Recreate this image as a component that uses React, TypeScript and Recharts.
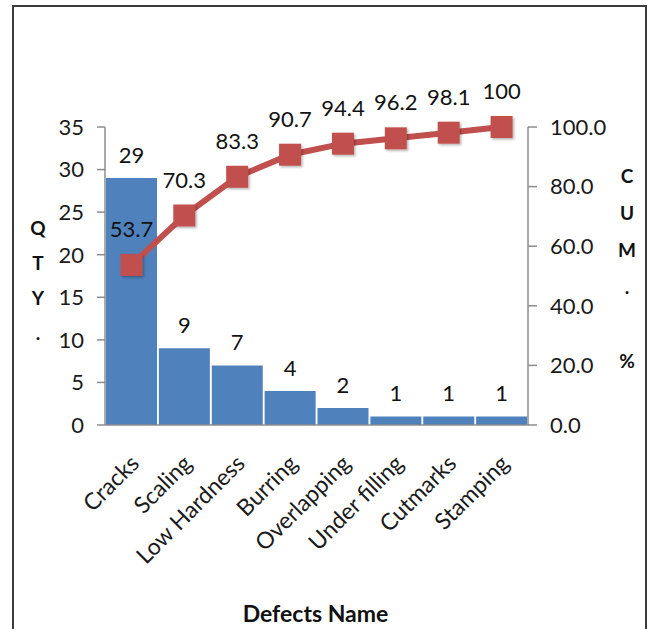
import React from 'react';
import { ComposedChart, Bar, Line, XAxis, YAxis, LabelList } from 'recharts';

const categories = ['Cracks', 'Scaling', 'Low Hardness', 'Burring', 'Overlapping', 'Under filling', 'Cutmarks', 'Stamping'];
const qty = [29, 9, 7, 4, 2, 1, 1, 1];
const cumPct = [53.7, 70.3, 83.3, 90.7, 94.4, 96.2, 98.1, 100];
const leftTicks = [0, 5, 10, 15, 20, 25, 30, 35];
const rightTicks = [0, 20, 40, 60, 80, 100];
const leftTitle = ['Q', 'T', 'Y', '.'];
const rightTitle = ['C', 'U', 'M', '.', '', '%'];
const xTitle = 'Defects Name';

const data = categories.map((name, i) => ({ name, qty: qty[i], cum: cumPct[i] }));

const FONT = "Lato, 'Open Sans', sans-serif";
const BAR = '#4f81bd';
const LINE = '#c0504d';
const AXIS = '#8c8c8c';
const NUM_SIZE = 22;

const XTick = (props: any) => {
  const { x, y, payload } = props;
  const ax = x + 9;
  const ay = y + 40;
  return (
    <text
      x={ax}
      y={ay}
      transform={`rotate(-45 ${ax} ${ay})`}
      textAnchor="end"
      fontFamily={FONT}
      fontSize={23}
      fill="#1a1a1a"
    >
      {payload.value}
    </text>
  );
};

const Square = (props: any) => {
  const { cx, cy, index } = props;
  if (cx == null || cy == null) return <g key={`sq-${index}`} />;
  return (
    <rect
      key={`sq-${index}`}
      x={cx - 11}
      y={cy - 11}
      width={22}
      height={22}
      fill={LINE}
      filter="url(#shadow)"
    />
  );
};

const LeftTitle = (props: any) => {
  const vb = props.viewBox || {};
  return (
    <g>
      {leftTitle.map((c, i) => (
        <text
          key={i}
          x={(vb.x || 0) + 38}
          y={227 + i * 35}
          textAnchor="middle"
          dominantBaseline="central"
          fontFamily={FONT}
          fontWeight="bold"
          fontSize={19}
          fill="#111"
        >
          {c}
        </text>
      ))}
    </g>
  );
};

const RightTitle = (props: any) => {
  const vb = props.viewBox || {};
  return (
    <g>
      {rightTitle.map((c, i) => (
        <text
          key={i}
          x={(vb.x || 0) + 99}
          y={175 + i * 37}
          textAnchor="middle"
          dominantBaseline="central"
          fontFamily={FONT}
          fontWeight="bold"
          fontSize={19}
          fill="#111"
        >
          {c}
        </text>
      ))}
    </g>
  );
};

const XTitle = (props: any) => {
  const vb = props.viewBox || {};
  return (
    <text
      x={(vb.x || 0) + (vb.width || 0) / 2 - 1}
      y={613}
      textAnchor="middle"
      dominantBaseline="central"
      fontFamily={FONT}
      fontWeight="bold"
      fontSize={23}
      fill="#111"
    >
      {xTitle}
    </text>
  );
};

export default function App() {
  return (
    <div style={{ position: 'absolute', left: 0, top: 0, width: 648, height: 629, overflow: 'hidden', background: '#fff' }}>
      <div
        style={{
          position: 'absolute',
          left: 12,
          top: 5,
          width: 635,
          height: 660,
          border: '2px solid #3c3c3c',
          boxSizing: 'border-box',
        }}
      />
      <div style={{ position: 'absolute', left: 0, top: 0 }}>
        <ComposedChart
          width={648}
          height={629}
          data={data}
          margin={{ top: 127, right: 0, bottom: 0, left: 0 }}
          barCategoryGap={1}
        >
          <defs>
            <filter id="shadow" x="-30%" y="-30%" width="160%" height="160%">
              <feDropShadow dx="1.5" dy="1.5" stdDeviation="1.2" floodColor="#000" floodOpacity="0.3" />
            </filter>
          </defs>
          <XAxis
            dataKey="name"
            height={204}
            tickLine={false}
            tickSize={0}
            tickMargin={0}
            interval={0}
            axisLine={{ stroke: AXIS, strokeWidth: 1.5 }}
            tick={<XTick />}
            label={<XTitle />}
          />
          <YAxis
            yAxisId="left"
            orientation="left"
            width={105}
            domain={[0, 35]}
            ticks={leftTicks}
            interval={0}
            tickSize={8}
            tickMargin={13}
            axisLine={{ stroke: AXIS, strokeWidth: 1.5 }}
            tickLine={{ stroke: AXIS, strokeWidth: 1.5 }}
            tick={{ fontFamily: FONT, fontSize: NUM_SIZE, fill: '#1a1a1a' }}
            label={<LeftTitle />}
          />
          <YAxis
            yAxisId="right"
            orientation="right"
            width={120}
            domain={[0, 100]}
            ticks={rightTicks}
            interval={0}
            tickSize={9}
            tickMargin={13}
            tickFormatter={(v: number) => v.toFixed(1)}
            axisLine={{ stroke: AXIS, strokeWidth: 1.5 }}
            tickLine={{ stroke: AXIS, strokeWidth: 1.5 }}
            tick={{ fontFamily: FONT, fontSize: NUM_SIZE, fill: '#1a1a1a' }}
            label={<RightTitle />}
          />
          <Bar yAxisId="left" dataKey="qty" fill={BAR} isAnimationActive={false}>
            <LabelList
              dataKey="qty"
              position="top"
              offset={15}
              fontFamily={FONT}
              fontSize={NUM_SIZE}
              fill="#111"
            />
          </Bar>
          <Line
            yAxisId="right"
            dataKey="cum"
            stroke={LINE}
            strokeWidth={6}
            dot={<Square />}
            activeDot={false}
            isAnimationActive={false}
          >
            <LabelList
              dataKey="cum"
              position="top"
              offset={28}
              fontFamily={FONT}
              fontSize={NUM_SIZE}
              fill="#111"
            />
          </Line>
        </ComposedChart>
      </div>
    </div>
  );
}
